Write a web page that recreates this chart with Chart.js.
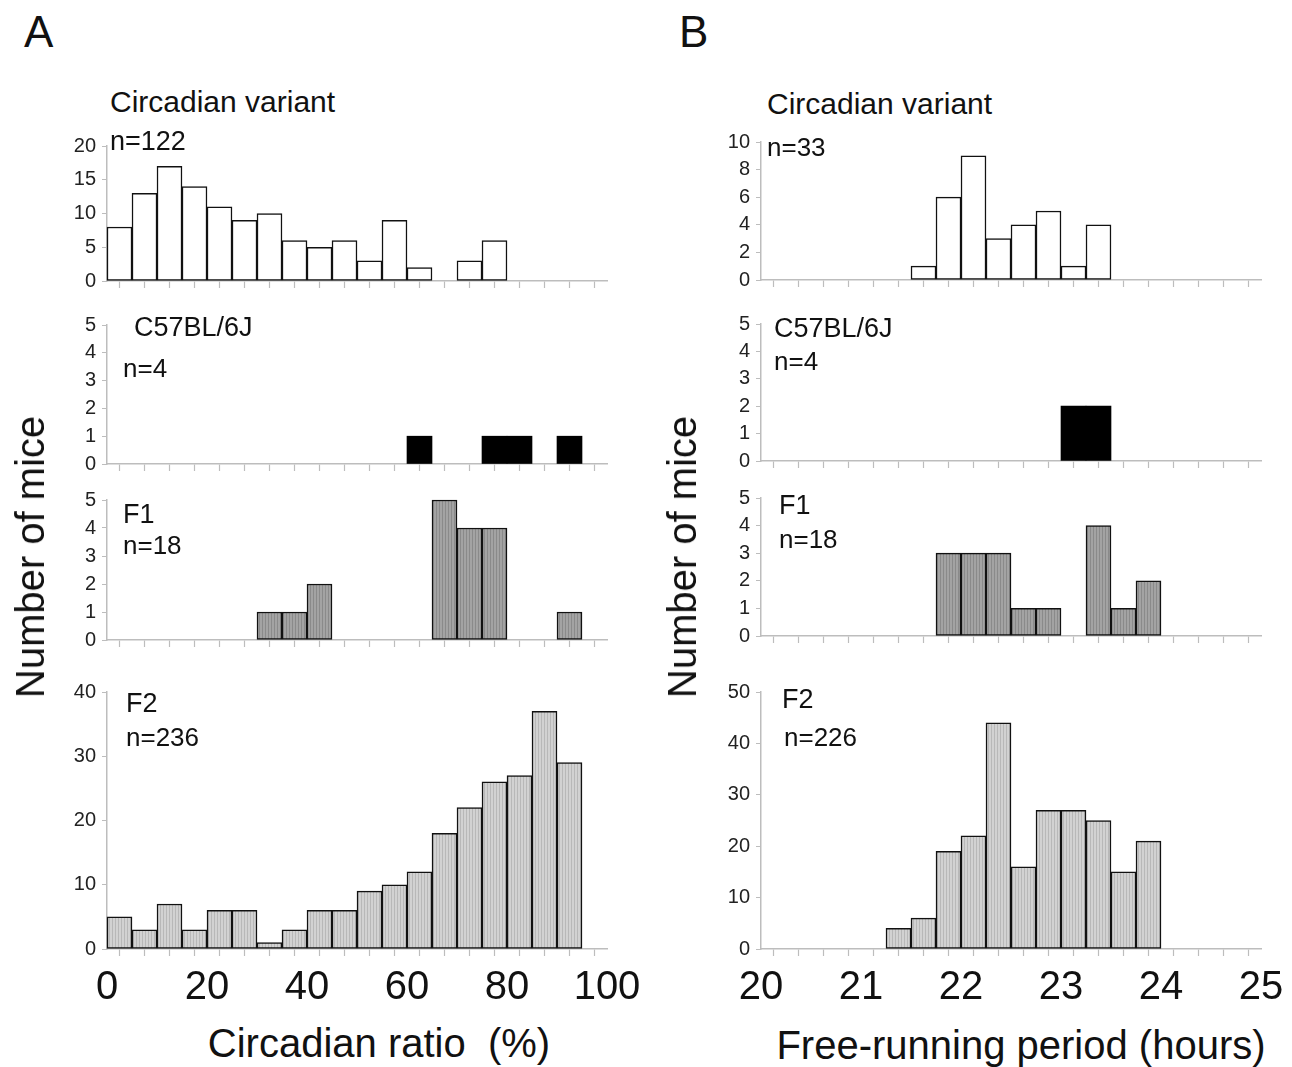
<!DOCTYPE html>
<html>
<head>
<meta charset="utf-8">
<script src="https://cdn.jsdelivr.net/npm/chart.js@4.4.1/dist/chart.umd.min.js"></script>
<style>
  body { margin: 0; background: #fff; }
  #fig { position: relative; width: 1292px; height: 1067px; overflow: hidden;
         font-family: "Liberation Sans", Arial, sans-serif; color: #111; }
  #fig canvas { position: absolute; }
  .lbl { position: absolute; white-space: pre; line-height: 1; }
</style>
</head>
<body>
<div id="fig"></div>
<script>
// --- dados: início de cada classe (bin) ---
const ratioBins = [0, 5, 10, 15, 20, 25, 30, 35, 40, 45, 50, 55, 60, 65, 70, 75, 80, 85, 90, 95];
const periodBins = [20, 20.25, 20.5, 20.75, 21, 21.25, 21.5, 21.75, 22, 22.25,
                    22.5, 22.75, 23, 23.25, 23.5, 23.75, 24, 24.25, 24.5, 24.75];
const ratioTickLabels = [0, 20, 40, 60, 80, 100];
const periodTickLabels = [20, 21, 22, 23, 24, 25];

// --- A: Circadian ratio (%) ---
const ratioVariant = [8, 13, 17, 14, 11, 9, 10, 6, 5, 6, 3, 9, 2, 0, 3, 6, 0, 0, 0, 0];
const ratioC57     = [0, 0, 0, 0, 0, 0, 0, 0, 0, 0, 0, 0, 1, 0, 0, 1, 1, 0, 1, 0];
const ratioF1      = [0, 0, 0, 0, 0, 0, 1, 1, 2, 0, 0, 0, 0, 5, 4, 4, 0, 0, 1, 0];
const ratioF2      = [5, 3, 7, 3, 6, 6, 1, 3, 6, 6, 9, 10, 12, 18, 22, 26, 27, 37, 29, 0];

// --- B: Free-running period (hours) ---
const periodVariant = [0, 0, 0, 0, 0, 0, 1, 6, 9, 3, 4, 5, 1, 4, 0, 0, 0, 0, 0, 0];
const periodC57     = [0, 0, 0, 0, 0, 0, 0, 0, 0, 0, 0, 0, 2, 2, 0, 0, 0, 0, 0, 0];
const periodF1      = [0, 0, 0, 0, 0, 0, 0, 3, 3, 3, 1, 1, 0, 4, 1, 2, 0, 0, 0, 0];
const periodF2      = [0, 0, 0, 0, 0, 4, 6, 19, 22, 44, 16, 27, 27, 25, 15, 21, 0, 0, 0, 0];

// --- marcas do eixo y ---
const yTicksRatioVariant = [0, 5, 10, 15, 20];
const yTicksPeriodVariant = [0, 2, 4, 6, 8, 10];
const yTicksSmall = [0, 1, 2, 3, 4, 5];
const yTicksRatioF2 = [0, 10, 20, 30, 40];
const yTicksPeriodF2 = [0, 10, 20, 30, 40, 50];

const FONT = '"Liberation Sans", Arial, sans-serif';
const fig = document.getElementById('fig');
const Y_W = 60, PAD_T = 16, PAD_R = 44;

function hatch(base, line) {
    const c = document.createElement('canvas');
    c.width = 3; c.height = 4;
    const g = c.getContext('2d');
    g.fillStyle = base; g.fillRect(0, 0, 3, 4);
    g.fillStyle = line; g.fillRect(2, 0, 1, 4);
    return g.createPattern(c, 'repeat');
}

const fillVariant = '#ffffff';
const fillC57 = '#000000';
const fillF1 = hatch('#a3a3a3', '#8a8a8a');
const fillF2 = hatch('#d2d2d2', '#b8b8b8');

function makePanel(p) {
    const step = p.bins[1] - p.bins[0];
    const edges = p.bins.concat([p.bins[p.bins.length - 1] + step]);
    const showX = !!p.bottomAxis;
    const xH = showX ? 70 : 10;
    const solid = p.fill === fillC57;
    const cv = document.createElement('canvas');
    cv.width = Y_W + (p.right - p.left) + PAD_R;
    cv.height = PAD_T + (p.bottom - p.top) + xH;
    cv.style.left = (p.left - Y_W) + 'px';
    cv.style.top = (p.top - PAD_T) + 'px';
    fig.appendChild(cv);

    new Chart(cv, {
        type: 'bar',
        data: {
            datasets: [{
                data: p.bins.map((b, i) => ({ x: b + step / 2, y: p.values[i] || null })),
                backgroundColor: p.fill,
                borderColor: '#111',
                // barras pretas sem contorno: evita a emenda cinzenta entre barras vizinhas
                borderWidth: solid ? 0 : 1.5,
                borderSkipped: false,
                barPercentage: 1,
                categoryPercentage: 1,
                clip: false
            }]
        },
        options: {
            responsive: false,
            animation: false,
            layout: { padding: { top: PAD_T, right: PAD_R, left: 0, bottom: 0 } },
            plugins: { legend: { display: false }, tooltip: { enabled: false } },
            scales: {
                x: {
                    type: 'linear', offset: false,
                    min: edges[0], max: edges[edges.length - 1],
                    afterBuildTicks: s => { s.ticks = edges.map(v => ({ value: v })); },
                    afterFit: s => { s.height = xH; s.paddingLeft = 0; s.paddingRight = 0; },
                    grid: { drawOnChartArea: false, tickLength: 7, tickColor: '#bdbdbd', tickWidth: 1.2 },
                    border: { color: '#bdbdbd', width: 1.5 },
                    ticks: {
                        display: showX, autoSkip: false, maxRotation: 0, padding: 12,
                        font: { family: FONT, size: 40, lineHeight: 1 }, color: '#111',
                        callback: v => p.tickLabels.includes(v) ? String(v) : ''
                    }
                },
                y: {
                    min: 0, max: p.yTicks[p.yTicks.length - 1],
                    afterBuildTicks: s => { s.ticks = p.yTicks.map(v => ({ value: v })); },
                    afterFit: s => { s.width = Y_W; s.paddingTop = 0; s.paddingBottom = 0; },
                    grid: { drawOnChartArea: false, tickLength: 5, tickColor: '#bdbdbd' },
                    border: { color: '#bdbdbd', width: 1.5 },
                    ticks: { padding: 6, font: { family: FONT, size: 20 }, color: '#222' }
                }
            }
        }
    });
}

// --- coluna A ---
makePanel({ bins: ratioBins, tickLabels: ratioTickLabels, values: ratioVariant, fill: fillVariant,
            yTicks: yTicksRatioVariant, left: 107, right: 607, top: 146, bottom: 281 });
makePanel({ bins: ratioBins, tickLabels: ratioTickLabels, values: ratioC57, fill: fillC57,
            yTicks: yTicksSmall, left: 107, right: 607, top: 325, bottom: 464 });
makePanel({ bins: ratioBins, tickLabels: ratioTickLabels, values: ratioF1, fill: fillF1,
            yTicks: yTicksSmall, left: 107, right: 607, top: 500, bottom: 640 });
makePanel({ bins: ratioBins, tickLabels: ratioTickLabels, values: ratioF2, fill: fillF2,
            yTicks: yTicksRatioF2, left: 107, right: 607, top: 692, bottom: 949, bottomAxis: true });

// --- coluna B ---
makePanel({ bins: periodBins, tickLabels: periodTickLabels, values: periodVariant, fill: fillVariant,
            yTicks: yTicksPeriodVariant, left: 761, right: 1261, top: 142, bottom: 280 });
makePanel({ bins: periodBins, tickLabels: periodTickLabels, values: periodC57, fill: fillC57,
            yTicks: yTicksSmall, left: 761, right: 1261, top: 324, bottom: 461 });
makePanel({ bins: periodBins, tickLabels: periodTickLabels, values: periodF1, fill: fillF1,
            yTicks: yTicksSmall, left: 761, right: 1261, top: 498, bottom: 636 });
makePanel({ bins: periodBins, tickLabels: periodTickLabels, values: periodF2, fill: fillF2,
            yTicks: yTicksPeriodF2, left: 761, right: 1261, top: 692, bottom: 949, bottomAxis: true });

// --- textos ---
function txt(s, x, yc, size) {
    const d = document.createElement('div');
    d.className = 'lbl';
    d.textContent = s;
    d.style.left = x + 'px';
    d.style.top = (yc - size / 2) + 'px';
    d.style.fontSize = size + 'px';
    fig.appendChild(d);
}
function ctxt(s, cx, cy, size, rotate) {
    const d = document.createElement('div');
    d.className = 'lbl';
    d.textContent = s;
    d.style.left = cx + 'px';
    d.style.top = cy + 'px';
    d.style.fontSize = size + 'px';
    d.style.transform = 'translate(-50%, -50%)' + (rotate ? ' rotate(-90deg)' : '');
    fig.appendChild(d);
}

txt('A', 24, 32, 44);
txt('B', 679, 32, 44);

txt('Circadian variant', 110, 102, 30);
txt('n=122', 110, 141, 27);
txt('C57BL/6J', 134, 327, 27);
txt('n=4', 123, 368, 26);
txt('F1', 123, 514, 27);
txt('n=18', 123, 545, 26);
txt('F2', 126, 703, 27);
txt('n=236', 126, 737, 26);

txt('Circadian variant', 767, 104, 30);
txt('n=33', 767, 147, 26);
txt('C57BL/6J', 774, 328, 27);
txt('n=4', 774, 361, 26);
txt('F1', 779, 505, 27);
txt('n=18', 779, 539, 26);
txt('F2', 782, 699, 27);
txt('n=226', 784, 737, 26);

ctxt('Number of mice', 30, 557, 40, true);
ctxt('Number of mice', 682, 557, 40, true);
ctxt('Circadian ratio  (%)', 379, 1043, 40);
ctxt('Free-running period (hours)', 1021, 1045, 40);
</script>
</body>
</html>
